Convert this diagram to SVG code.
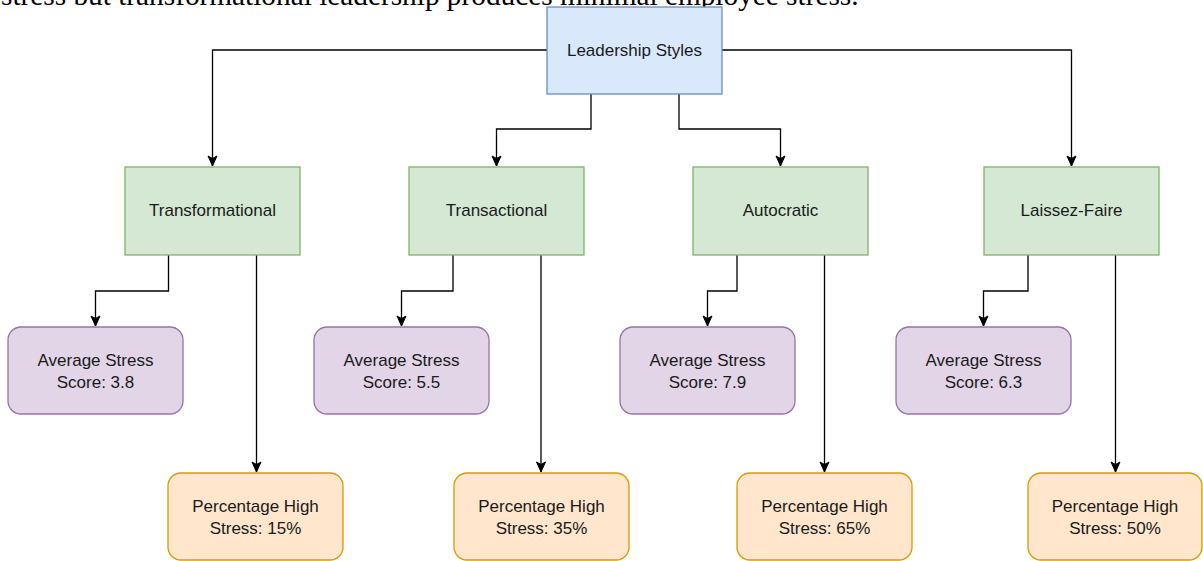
<svg xmlns="http://www.w3.org/2000/svg" width="1203" height="561" viewBox="0 0 1203 561">
  <style>
    .lbl { font-family: "Liberation Sans", Arial, sans-serif; font-size: 17px; fill: #1a1a1a; text-anchor: middle; }
    .root { fill: #dae8fc; stroke: #6c8ebf; stroke-width: 1.3; }
    .style { fill: #d5e8d4; stroke: #82b366; stroke-width: 1.3; }
    .avg { fill: #e1d5e7; stroke: #9673a6; stroke-width: 1.3; }
    .pct { fill: #ffe6cc; stroke: #d79b00; stroke-width: 1.3; }
    .edge { fill: none; stroke: #000; stroke-width: 1.3; marker-end: url(#arr); }
    .cap { font-family: "Liberation Serif", "Times New Roman", serif; font-size: 29.3px; fill: #000; }
  </style>
  <defs>
    <marker id="arr" markerUnits="userSpaceOnUse" markerWidth="12" markerHeight="12" viewBox="0 0 12 12" refX="11" refY="6" orient="auto">
      <path d="M1,1.5 L11,6 L1,10.5 L3.5,6 Z" fill="#000" stroke="#000" stroke-width="1"/>
    </marker>
  </defs>
  <rect width="1203" height="561" fill="#ffffff"/>
  <text class="cap" x="1" y="5">stress but transformational leadership produces minimal employee stress.</text>

  <g id="connectors">
    <path class="edge" d="M547,50 H212.5 V166"/>
    <path class="edge" d="M722,50 H1071.5 V166"/>
    <path class="edge" d="M591,94 V129 H496.5 V166"/>
    <path class="edge" d="M679,94 V129 H780.5 V166"/>

    <path class="edge" d="M168.5,255 V291 H95.5 V326"/>
    <path class="edge" d="M256.5,255 V472"/>
    <path class="edge" d="M453,255 V291 H401.5 V326"/>
    <path class="edge" d="M541,255 V472"/>
    <path class="edge" d="M737,255 V291 H707.5 V326"/>
    <path class="edge" d="M824.5,255 V472"/>
    <path class="edge" d="M1028,255 V291 H983.5 V326"/>
    <path class="edge" d="M1115.5,255 V472"/>
  </g>

  <g id="leadership-styles">
    <rect class="root" x="547" y="7" width="175" height="87"/>
    <text class="lbl" x="634.5" y="56">Leadership Styles</text>
  </g>

  <g id="transformational">
    <rect class="style" x="125" y="167" width="175" height="88"/>
    <text class="lbl" x="212.5" y="216">Transformational</text>
  </g>
  <g id="transactional">
    <rect class="style" x="409" y="167" width="175" height="88"/>
    <text class="lbl" x="496.5" y="216">Transactional</text>
  </g>
  <g id="autocratic">
    <rect class="style" x="693" y="167" width="175" height="88"/>
    <text class="lbl" x="780.5" y="216">Autocratic</text>
  </g>
  <g id="laissez-faire">
    <rect class="style" x="984" y="167" width="175" height="88"/>
    <text class="lbl" x="1071.5" y="216">Laissez-Faire</text>
  </g>

  <g id="avg-transformational">
    <rect class="avg" x="8" y="327" width="175" height="87" rx="13"/>
    <text class="lbl" x="95.5" y="366">Average Stress</text>
    <text class="lbl" x="95.5" y="388">Score: 3.8</text>
  </g>
  <g id="avg-transactional">
    <rect class="avg" x="314" y="327" width="175" height="87" rx="13"/>
    <text class="lbl" x="401.5" y="366">Average Stress</text>
    <text class="lbl" x="401.5" y="388">Score: 5.5</text>
  </g>
  <g id="avg-autocratic">
    <rect class="avg" x="620" y="327" width="175" height="87" rx="13"/>
    <text class="lbl" x="707.5" y="366">Average Stress</text>
    <text class="lbl" x="707.5" y="388">Score: 7.9</text>
  </g>
  <g id="avg-laissez-faire">
    <rect class="avg" x="896" y="327" width="175" height="87" rx="13"/>
    <text class="lbl" x="983.5" y="366">Average Stress</text>
    <text class="lbl" x="983.5" y="388">Score: 6.3</text>
  </g>

  <g id="pct-transformational">
    <rect class="pct" x="168" y="473" width="175" height="87" rx="13"/>
    <text class="lbl" x="255.5" y="512">Percentage High</text>
    <text class="lbl" x="255.5" y="534">Stress: 15%</text>
  </g>
  <g id="pct-transactional">
    <rect class="pct" x="454" y="473" width="175" height="87" rx="13"/>
    <text class="lbl" x="541.5" y="512">Percentage High</text>
    <text class="lbl" x="541.5" y="534">Stress: 35%</text>
  </g>
  <g id="pct-autocratic">
    <rect class="pct" x="737" y="473" width="175" height="87" rx="13"/>
    <text class="lbl" x="824.5" y="512">Percentage High</text>
    <text class="lbl" x="824.5" y="534">Stress: 65%</text>
  </g>
  <g id="pct-laissez-faire">
    <rect class="pct" x="1028" y="473" width="174" height="87" rx="13"/>
    <text class="lbl" x="1115" y="512">Percentage High</text>
    <text class="lbl" x="1115" y="534">Stress: 50%</text>
  </g>
</svg>
